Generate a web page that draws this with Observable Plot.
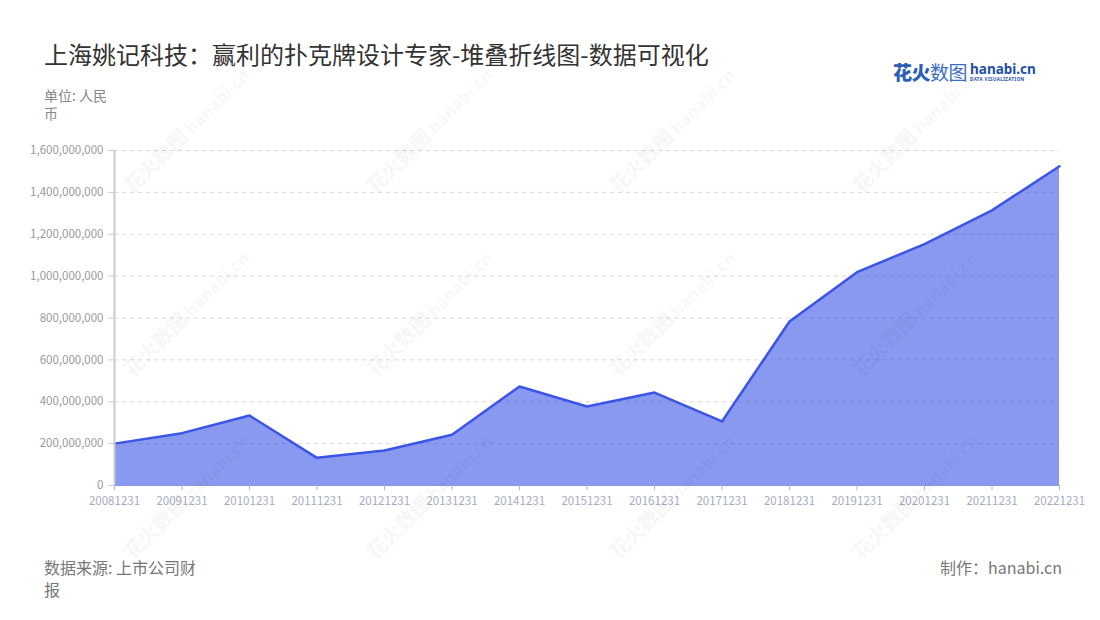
<!DOCTYPE html>
<html>
<head>
<meta charset="utf-8">
<script src="https://cdn.jsdelivr.net/npm/d3@7"></script>
<script src="https://cdn.jsdelivr.net/npm/@observablehq/plot@0.6"></script>
<style>
  html, body { margin: 0; padding: 0; background: #fff; }
  body { font-family: "Noto Sans CJK SC", "Noto Sans", sans-serif; }
  #wrap { position: relative; width: 1100px; height: 620px; overflow: hidden; }
  .title { position: absolute; left: 44px; top: 38px; font-size: 24px; color: #333; white-space: nowrap; line-height: 32px; }
  .unit { position: absolute; left: 44px; top: 86px; width: 70px; font-size: 14px; color: #888; line-height: 18px; }
  .source { position: absolute; left: 44px; top: 556px; width: 160px; font-size: 16px; color: #777; line-height: 22px; }
  .maker { position: absolute; right: 38px; top: 556px; font-size: 16px; color: #777; line-height: 22px; white-space: nowrap; }
  .logo { position: absolute; left: 893px; top: 61px; white-space: nowrap; }
  .logo .cn { font-size: 19px; font-weight: 900; color: #2b5fb8; letter-spacing: -0.5px; vertical-align: top; line-height: 22px; }
  .logo .cn .l { font-weight: 400; color: #3a6cc4; }
  .logo .en { display: inline-block; vertical-align: top; margin-left: 3px; margin-top: 1px; }
  .logo .en .a { font-size: 13.5px; font-weight: 700; color: #1f4fa8; line-height: 14px; font-family: "Noto Sans", sans-serif; }
  .logo .en .b { font-size: 4.5px; font-weight: 700; color: #1f4fa8; letter-spacing: 0.4px; line-height: 6px; font-family: "Noto Sans", sans-serif; }
  #chart { position: absolute; left: 0; top: 130px; }
  .wm { position: absolute; pointer-events: none; transform: rotate(-45deg); transform-origin: center; white-space: nowrap; color: rgba(0,0,0,0.045); }
  .wm .c { font-size: 20px; font-weight: 900; }
  .wm .e { font-size: 17px; font-weight: 700; font-family: "Noto Sans", sans-serif; margin-left: 4px; }
</style>
</head>
<body>
<div id="wrap">
  <div class="title">上海姚记科技：赢利的扑克牌设计专家-堆叠折线图-数据可视化</div>
  <div class="logo"><span class="cn">花火<span class="l">数图</span></span><span class="en"><div class="a">hanabi.cn</div><div class="b">DATA VISUALIZATION</div></span></div>
  <div class="unit">单位: 人民币</div>
  <div id="chart"></div>
  <div class="source">数据来源: 上市公司财报</div>
  <div class="maker">制作：hanabi.cn</div>
  <div id="wms"></div>
</div>
<script>
const dates = ["20081231","20091231","20101231","20111231","20121231","20131231","20141231","20151231","20161231","20171231","20181231","20191231","20201231","20211231","20221231"];
const values = [200000000, 250000000, 334000000, 132000000, 167000000, 242000000, 473000000, 377000000, 444000000, 306000000, 783000000, 1019000000, 1153000000, 1314000000, 1525000000];
const yTicks = [0, 200000000, 400000000, 600000000, 800000000, 1000000000, 1200000000, 1400000000, 1600000000];

const data = dates.map((d, i) => ({date: d, value: values[i]}));
const lineColor = "#3b55e6";

const chart = Plot.plot({
  width: 1100,
  height: 390,
  marginTop: 20,
  marginBottom: 35,
  marginLeft: 114,
  marginRight: 41,
  style: { fontFamily: "'Noto Sans CJK SC', 'Noto Sans', sans-serif", fontSize: "11.5px", background: "transparent" },
  x: { type: "point", domain: dates, padding: 0, round: false },
  y: { domain: [0, 1600000000], ticks: yTicks },
  marks: [
    Plot.gridY(yTicks.slice(1), { stroke: "#d9d9d9", strokeOpacity: 1, strokeDasharray: "4,4" }),
    Plot.areaY(data, { x: "date", y: "value", fill: lineColor, fillOpacity: 0.6 }),
    Plot.lineY(data, { x: "date", y: "value", stroke: lineColor, strokeWidth: 2.5 }),
    Plot.ruleY([0], { stroke: "#8b96d6", strokeWidth: 1.2 }),
    Plot.ruleX([dates[0]], { stroke: "#cccccc", strokeWidth: 2 }),
    Plot.axisY(yTicks, { tickFormat: d3.format(","), tickSize: 6, tickPadding: 5, stroke: "#cccccc", color: "#999", label: null }),
    Plot.axisX(dates, { tickSize: 5, tickPadding: 6, stroke: "#b0b4c4", color: "#a6abbf", label: null })
  ]
});
document.getElementById("chart").appendChild(chart);

// faint watermarks
const wms = document.getElementById("wms");
const cols = [185, 428, 671, 914];
const rows = [129, 312, 495];
for (const cy of rows) for (const cx of cols) {
  const el = document.createElement("div");
  el.className = "wm";
  el.innerHTML = '<span class="c">花火数图</span><span class="e">hanabi.cn</span>';
  wms.appendChild(el);
  const w = el.offsetWidth, h = el.offsetHeight;
  el.style.left = (cx - w / 2) + "px";
  el.style.top = (cy - h / 2) + "px";
}
</script>
</body>
</html>
